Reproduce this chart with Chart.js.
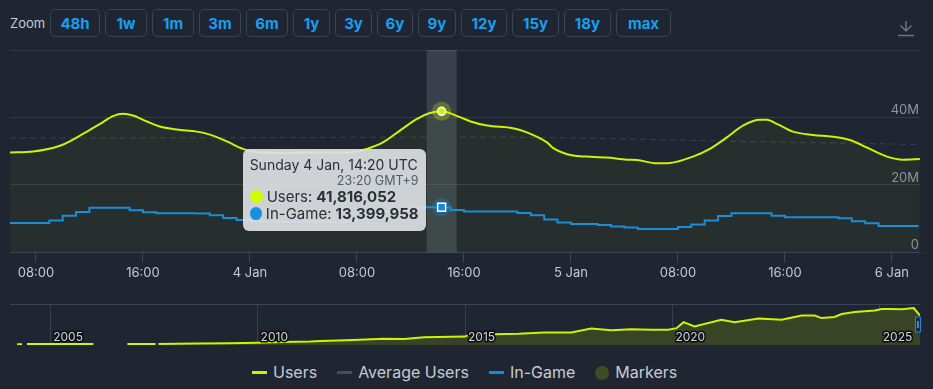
<!DOCTYPE html>
<html>
<head>
<meta charset="utf-8">
<script src="https://cdn.jsdelivr.net/npm/chart.js@4.4.1/dist/chart.umd.min.js"></script>
<style>
  body { margin: 0; background: #1f2531; width: 933px; height: 389px; overflow: hidden; position: relative; font-family: Inter, "Noto Sans", sans-serif; }
  #zoombar { position: absolute; left: 10px; top: 9px; display: flex; align-items: center; gap: 5px; }
  #zoombar .zl { color: #c6cbd3; font-size: 13px; width: 35px; }
  #zoombar button { height: 28px; padding: 0; background: transparent; border: 1px solid #384354; border-radius: 5px; color: #1a9ff0; font: 700 15px Inter, sans-serif; }
  #dl { position: absolute; left: 897px; top: 20px; }
  #mainWrap { position: absolute; left: 0; top: 40px; width: 933px; height: 250px; }
  #navWrap { position: absolute; left: 0; top: 295px; width: 933px; height: 60px; }
  #tip { position: absolute; top: 149px; width: 183px; height: 82px; box-sizing: border-box; padding: 7px 7px; background: rgba(221, 223, 226, 0.93); border-radius: 6px; color: #2b2f36; z-index: 5; }
  #tip .t1 { font-size: 14px; line-height: 18px; white-space: nowrap; }
  #tip .t2 { font-size: 12.5px; line-height: 14px; text-align: right; color: #555b63; }
  #tip .row { font-size: 15px; line-height: 17px; display: flex; align-items: center; white-space: nowrap; }
  #tip .row i { width: 13px; height: 13px; border-radius: 50%; margin-right: 4px; display: inline-block; }
  #tip .row b { margin-left: 4px; }
  #legend { position: absolute; left: 252px; top: 363px; display: flex; align-items: center; color: #c6cbd3; font-size: 16px; line-height: 19px; }
  #legend .it { display: flex; align-items: center; margin-right: 20px; }
  #legend .ln { width: 15px; height: 2.5px; margin-right: 6px; }
  #legend .dot { width: 14px; height: 14px; border-radius: 50%; margin-right: 6px; background: #3f4d25; }
</style>
</head>
<body>
<div id="zoombar">
  <span class="zl">Zoom</span>
  <button style="width:50px">48h</button>
  <button style="width:42px">1w</button>
  <button style="width:42px">1m</button>
  <button style="width:42px">3m</button>
  <button style="width:42px">6m</button>
  <button style="width:37px">1y</button>
  <button style="width:37px">3y</button>
  <button style="width:36px">6y</button>
  <button style="width:38px">9y</button>
  <button style="width:46px">12y</button>
  <button style="width:47px">15y</button>
  <button style="width:47px">18y</button>
  <button style="width:55px">max</button>
</div>
<svg id="dl" width="18" height="17" viewBox="0 0 18 17" fill="none" stroke="#6b7380" stroke-width="1.5">
  <path d="M9 1 V11 M3.5 5.5 L9 11 L14.5 5.5 M1 15.5 H17"/>
</svg>

<div id="mainWrap"><canvas id="main"></canvas></div>
<div id="tip">
  <div class="t1" id="tipTitle"></div>
  <div class="t2" id="tipLocal"></div>
  <div class="row"><i style="background:#d4fc00"></i>Users: <b id="tipUsers"></b></div>
  <div class="row"><i style="background:#1a8fe0"></i>In-Game: <b id="tipInGame"></b></div>
</div>
<div id="navWrap"><canvas id="nav"></canvas></div>

<div id="legend">
  <div class="it"><span class="ln" style="background:#cdf400"></span>Users</div>
  <div class="it"><span class="ln" style="background:#474e5a"></span>Average Users</div>
  <div class="it"><span class="ln" style="background:#1289e0"></span>In-Game</div>
  <div class="it"><span class="dot"></span>Markers</div>
</div>

<script>
// colours
const USERS_COLOR = '#cdf400';
const IN_GAME_COLOR = '#1289e0';

// time axis: hours since 3 Jan 00:00 UTC
const X_MIN = 6.06;
const X_MAX = 74.1;
const xTickHours = [8, 16, 24, 32, 40, 48, 56, 64, 72];
const yTickValues = [0, 20, 40, 60];

// Users (millions)
const userHours = [6.06, 7.78, 9.79, 11.51, 12.79, 13.76, 14.5, 15.25, 16.3, 17.27, 18.54, 20.04, 21.01, 22.28, 23.48,
  24.75, 26.47, 29.01, 31.48, 32.75, 33.94, 35.21, 36.49, 37.46, 38.33, 39.7, 40.45, 41.72, 43.66, 44.71, 46.21,
  46.65, 48.15, 49.2, 50.69, 52.19, 52.93, 54.43, 55.4, 57.12, 58.39, 59.66, 60.86, 62.13, 62.65, 63.4, 64.6,
  66.09, 67.59, 68.86, 70.13, 71.63, 72.82, 74.09];
const userValues = [29.6, 29.9, 31.6, 35.1, 38.1, 40.4, 41.1, 40.6, 38.8, 37.3, 36.4, 35.8, 34.9, 32.9, 30.7,
  29.6, 29.5, 29.6, 29.6, 30.7, 32.6, 36.1, 39.6, 41.3, 41.82, 40.1, 38.9, 37.6, 36.8, 35.6, 32.6,
  31.0, 28.7, 28.4, 28.1, 27.5, 27.4, 26.4, 26.5, 28.4, 30.7, 34.1, 37.6, 39.3, 39.3, 38.1, 35.8,
  34.8, 34.3, 33.3, 31.1, 28.4, 27.5, 27.7];

// Average users (millions)
const avgHours = [6.06, 24, 40, 50, 61, 74.09];
const avgValues = [33.9, 34.0, 34.2, 33.8, 32.9, 32.0];

// In-Game (millions), one value per hour starting at 06:00 on 3 Jan
const inGameStartHour = 6;
const inGameValues = [8.75, 8.75, 8.75, 8.75, 9.46, 10.9, 12.0, 13.2, 13.2, 13.2, 12.5, 11.9, 11.6, 11.6, 11.6, 11.5,
  11.0, 10.2, 9.6, 9.2, 9.0, 9.0, 9.0, 9.0, 9.0, 8.9, 9.3, 10.0, 11.0, 12.0, 12.6, 13.2, 13.4, 13.3, 12.6,
  12.1, 12.1, 12.1, 12.1, 11.7, 11.0, 9.75, 8.85, 8.45, 8.45, 8.15, 7.66, 7.37, 6.96, 6.96, 6.96, 7.5, 8.25,
  9.46, 10.8, 11.6, 11.6, 11.6, 10.9, 10.4, 10.4, 10.4, 10.4, 10.1, 9.25, 8.66, 7.85, 7.85, 7.85];

// hovered point shown in the tooltip
const hoverHour = 38.333;
const hoverUsers = 41816052;
const hoverInGame = 13399958;
const hoverTitle = 'Sunday 4 Jan, 14:20 UTC';
const hoverLocal = '23:20 GMT+9';

// navigator: all-time users (millions), null = gap
const NAV_MIN = 2004.03;
const NAV_MAX = 2025.97;
const navTickYears = [2005, 2010, 2015, 2020, 2025];
const navYears = [2004.2, 2004.32, 2004.38, 2004.44, 2006.04, 2006.4, 2006.86, 2007.54, 2007.58, 2007.61, 2008.5,
  2009.3, 2010, 2010.6, 2011.28, 2011.52, 2012.3, 2013.04, 2013.53, 2014.01, 2015, 2015.1, 2015.7, 2016.3,
  2016.91, 2017.56, 2018.04, 2018.53, 2019.01, 2019.5, 2019.9, 2020.1, 2020.27, 2020.53, 2021.18, 2021.5,
  2022.08, 2022.63, 2023.12, 2023.43, 2023.6, 2023.91, 2024.08, 2024.4, 2024.88, 2025.05, 2025.22, 2025.53,
  2025.82, 2025.97];
const navUsers = [0.8, 0.8, null, 1.0, 1.0, null, 1.1, 1.1, null, 1.2, 1.6,
  2.0, 2.6, 3.3, 3.8, 4.4, 5.5, 7.1, 6.8, 8.7, 9.4, 11.6, 12.1, 12.6,
  13.9, 14.1, 18.4, 16.6, 17.6, 17.2, 17.0, 18.9, 25.6, 20.7, 28.3, 25.6,
  29.7, 28.3, 33.1, 33.1, 30.2, 31.5, 34.7, 37.0, 38.8, 40.3, 40.3, 40.0,
  41.5, 33.0];

const pts = (xs, ys) => xs.map((x, i) => ({ x, y: ys[i] }));

function fmtHour(v) {
  if (v % 24 === 0) return (3 + v / 24) + ' Jan';
  const h = v % 24;
  return (h < 10 ? '0' : '') + h + ':00';
}

function fmtY(v) {
  return v === 0 ? '0' : v + 'M';
}

// crosshair band, hover markers, y labels sitting above the grid lines
const hoverPlugin = {
  id: 'hover',
  beforeDatasetsDraw(chart) {
    const { ctx, chartArea: a, scales: { x } } = chart;
    const px = x.getPixelForValue(hoverHour);
    ctx.save();
    ctx.fillStyle = 'rgba(120,128,140,0.31)';
    ctx.fillRect(px - 15, a.top, 30, a.bottom - a.top);
    ctx.restore();
  },
  afterDatasetsDraw(chart) {
    const { ctx, chartArea: a, scales: { x, y } } = chart;
    // y labels (top one hidden, like the original)
    ctx.save();
    ctx.font = '13px Inter';
    ctx.fillStyle = '#8d95a0';
    ctx.textAlign = 'right';
    ctx.textBaseline = 'middle';
    y.ticks.forEach((t) => {
      if (t.value >= y.max) return;
      ctx.fillText(fmtY(t.value), a.right - 1, y.getPixelForValue(t.value) - 7);
    });
    ctx.restore();

    const px = x.getPixelForValue(hoverHour);
    const uy = y.getPixelForValue(hoverUsers / 1e6);
    const gy = y.getPixelForValue(hoverInGame / 1e6);
    ctx.save();
    ctx.fillStyle = 'rgba(205,244,0,0.28)';
    ctx.beginPath(); ctx.arc(px, uy, 9.5, 0, Math.PI * 2); ctx.fill();
    ctx.fillStyle = USERS_COLOR; ctx.strokeStyle = '#fff'; ctx.lineWidth = 1.5;
    ctx.beginPath(); ctx.arc(px, uy, 4, 0, Math.PI * 2); ctx.fill(); ctx.stroke();
    ctx.fillStyle = 'rgba(18,137,224,0.3)';
    ctx.beginPath(); ctx.arc(px, gy, 9.5, 0, Math.PI * 2); ctx.fill();
    ctx.fillStyle = IN_GAME_COLOR;
    ctx.fillRect(px - 4, gy - 4, 8, 8); ctx.strokeRect(px - 4, gy - 4, 8, 8);
    ctx.restore();
    const tip = document.getElementById('tip');
    tip.style.left = (px - 16 - 183) + 'px';
  }
};

const mainChart = new Chart(document.getElementById('main'), {
  type: 'line',
  data: {
    datasets: [
      {
        label: 'Users',
        data: pts(userHours, userValues),
        borderColor: USERS_COLOR,
        borderWidth: 2,
        backgroundColor: 'rgba(205,244,0,0.045)',
        fill: 'origin',
        pointRadius: 0,
        cubicInterpolationMode: 'monotone',
        order: 1
      },
      {
        label: 'Average Users',
        data: pts(avgHours, avgValues),
        borderColor: '#3b4250',
        borderWidth: 1,
        borderDash: [6, 4],
        pointRadius: 0,
        cubicInterpolationMode: 'monotone',
        fill: false,
        order: 3
      },
      {
        label: 'In-Game',
        data: inGameValues.map((v, i) => ({ x: inGameStartHour + i, y: v })),
        borderColor: IN_GAME_COLOR,
        borderWidth: 2,
        stepped: 'after',
        pointRadius: 0,
        fill: false,
        order: 2
      }
    ]
  },
  options: {
    responsive: true,
    maintainAspectRatio: false,
    animation: false,
    events: [],
    layout: { padding: { left: 10, right: 13, top: 10, bottom: 6 } },
    plugins: { legend: { display: false }, tooltip: { enabled: false } },
    scales: {
      x: {
        type: 'linear',
        min: X_MIN,
        max: X_MAX,
        afterBuildTicks: (s) => { s.ticks = xTickHours.map((v) => ({ value: v })); },
        ticks: {
          callback: (v) => fmtHour(v),
          color: '#c5cad1',
          font: { family: 'Inter', size: 13 },
          padding: 3,
          maxRotation: 0,
          autoSkip: false
        },
        grid: { drawOnChartArea: false, tickLength: 10, color: '#3a4659' },
        border: { color: '#3a4659' }
      },
      y: {
        position: 'right',
        min: 0,
        max: 60,
        afterBuildTicks: (s) => { s.ticks = yTickValues.map((v) => ({ value: v })); },
        ticks: { display: false },
        grid: { color: '#353c49', drawTicks: false },
        border: { display: false }
      }
    }
  },
  plugins: [hoverPlugin]
});

document.getElementById('tipTitle').textContent = hoverTitle;
document.getElementById('tipLocal').textContent = hoverLocal;
document.getElementById('tipUsers').textContent = hoverUsers.toLocaleString('en-US');
document.getElementById('tipInGame').textContent = hoverInGame.toLocaleString('en-US');

// navigator year labels + range handle
const navPlugin = {
  id: 'navLabels',
  afterDatasetsDraw(chart) {
    const { ctx, chartArea: a, scales: { x } } = chart;
    ctx.save();
    ctx.font = '12px Inter';
    ctx.textBaseline = 'middle';
    ctx.lineJoin = 'round';
    x.ticks.forEach((t) => {
      const px = x.getPixelForValue(t.value) + 3;
      ctx.lineWidth = 3;
      ctx.strokeStyle = '#0c0e12';
      ctx.strokeText(String(t.value), px, a.bottom - 8);
      ctx.fillStyle = '#d0d4da';
      ctx.fillText(String(t.value), px, a.bottom - 8);
    });
    const hx = x.getPixelForValue(NAV_MAX);
    ctx.fillStyle = '#1f2531';
    ctx.strokeStyle = IN_GAME_COLOR;
    ctx.lineWidth = 1.2;
    ctx.fillRect(hx - 4.5, a.top + 13, 5, 15);
    ctx.strokeRect(hx - 4.5, a.top + 13, 5, 15);
    ctx.strokeStyle = '#c6cbd3';
    ctx.lineWidth = 1;
    ctx.beginPath(); ctx.moveTo(hx - 2, a.top + 17); ctx.lineTo(hx - 2, a.top + 24); ctx.stroke();
    ctx.restore();
  }
};

new Chart(document.getElementById('nav'), {
  type: 'line',
  data: {
    datasets: [{
      data: pts(navYears, navUsers),
      borderColor: USERS_COLOR,
      borderWidth: 2,
      backgroundColor: '#394326',
      fill: 'origin',
      pointRadius: 0,
      spanGaps: false
    }]
  },
  options: {
    responsive: true,
    maintainAspectRatio: false,
    animation: false,
    events: [],
    layout: { padding: { left: 10, right: 13, top: 9, bottom: 10 } },
    plugins: { legend: { display: false }, tooltip: { enabled: false } },
    scales: {
      x: {
        type: 'linear',
        min: NAV_MIN,
        max: NAV_MAX,
        afterBuildTicks: (s) => { s.ticks = navTickYears.map((v) => ({ value: v })); },
        ticks: { display: false },
        grid: { color: '#34404f', drawTicks: false },
        border: { display: false }
      },
      y: {
        min: 0,
        max: 46,
        afterBuildTicks: (s) => { s.ticks = [{ value: 46 }]; },
        ticks: { display: false },
        grid: { color: '#3a4658', drawTicks: false },
        border: { display: false }
      }
    }
  },
  plugins: [navPlugin]
});
</script>
</body>
</html>
